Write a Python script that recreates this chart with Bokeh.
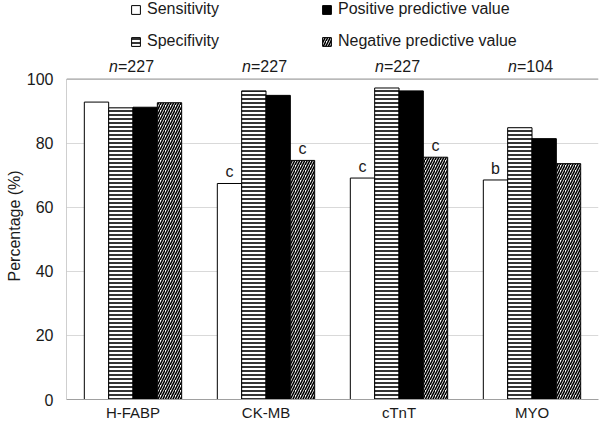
from bokeh.plotting import figure
from bokeh.models import (ColumnDataSource, FactorRange, Range1d, Legend, LegendItem,
                          LabelSet, Title, Span, FixedTicker)
from bokeh.core.properties import value
from bokeh.transform import dodge
from bokeh.embed import file_html
from bokeh.resources import INLINE

categories = ["H-FABP", "CK-MB", "cTnT", "MYO"]
sensitivity = [92.8, 67.4, 69.1, 68.5]
specifivity = [91.0, 96.3, 97.2, 84.8]
ppv = [91.2, 94.9, 96.3, 81.4]
npv = [92.6, 74.6, 75.6, 73.6]
n_counts = ["=227", "=227", "=227", "=104"]
sens_marks = ["", "c", "c", "b"]
npv_marks = ["", "c", "c", ""]
y_ticks = [0, 20, 40, 60, 80, 100]

FONT_NAME = "Liberation Sans"
FONT = value(FONT_NAME)
TXT = "#1a1a1a"
Y_TOP = 124.5  # extra room above 100 for legend and n labels

src = ColumnDataSource(dict(cat=categories, sens=sensitivity, spec=specifivity,
                            ppv=ppv, npv=npv, n=n_counts, nn=["n"] * len(categories),
                            sm=sens_marks, nm=npv_marks,
                            top100=[y_ticks[-1]] * len(categories)))

p = figure(x_range=FactorRange(*categories, range_padding=0), y_range=Range1d(0, Y_TOP),
           width=600, height=423, output_backend="svg", toolbar_location=None,
           min_border_left=66, min_border_right=2, min_border_top=0, min_border_bottom=19)

w = 0.183
offs = [-1.5 * w, -0.5 * w, 0.5 * w, 1.5 * w]

# left axis line (only from 0 to 100)
axsrc = ColumnDataSource(dict(cat=categories[:1], y0=[y_ticks[0]], y1=[y_ticks[-1]]))
p.segment(x0=dodge("cat", -0.5, range=p.x_range), x1=dodge("cat", -0.5, range=p.x_range),
          y0="y0", y1="y1", source=axsrc, line_color="#a0a0a0", line_width=1)
p.add_layout(Span(location=y_ticks[-1], dimension="width", line_color="#9a9a9a", line_width=1))

r_sens = p.vbar(x=dodge("cat", offs[0], range=p.x_range), top="sens", width=w, source=src,
                fill_color="white", line_color="black", line_width=1)
r_spec = p.vbar(x=dodge("cat", offs[1], range=p.x_range), top="spec", width=w, source=src,
                fill_color="white", line_color="black", line_width=1,
                hatch_pattern="-", hatch_color="black", hatch_scale=4, hatch_weight=1.6)
r_ppv = p.vbar(x=dodge("cat", offs[2], range=p.x_range), top="ppv", width=w, source=src,
               fill_color="black", line_color="black", line_width=1)
r_npv = p.vbar(x=dodge("cat", offs[3], range=p.x_range), top="npv", width=w, source=src,
               fill_color="white", line_color="black", line_width=1,
               hatch_pattern="/", hatch_color="black", hatch_scale=5, hatch_weight=1.6)

# significance letters
for fld, top, off in (("sm", "sens", offs[0]), ("nm", "npv", offs[3])):
    p.add_layout(LabelSet(x=dodge("cat", off, range=p.x_range), y=top, text=fld, source=src,
                          text_align="center", text_baseline="alphabetic", y_offset=6,
                          text_font=FONT, text_font_size="16px", text_color=TXT))

# n labels above the 100 line
p.add_layout(LabelSet(x="cat", y="top100", text="nn", source=src, text_align="right",
                      text_baseline="alphabetic", x_offset=-15, y_offset=7,
                      text_font=FONT, text_font_style="italic", text_font_size="16px",
                      text_color=TXT))
p.add_layout(LabelSet(x="cat", y="top100", text="n", source=src, text_align="left",
                      text_baseline="alphabetic", x_offset=-15, y_offset=7,
                      text_font=FONT, text_font_size="16px", text_color=TXT))

# y axis title
p.add_layout(Title(text="Percentage (%)", align="left", offset=118, standoff=2,
                   text_font=FONT_NAME, text_font_size="16px", text_font_style="normal",
                   text_color=TXT), "left")

leg_kw = dict(orientation="vertical", padding=0, margin=0, spacing=14, label_height=16,
              glyph_width=11, glyph_height=11, label_standoff=6,
              label_text_font=FONT_NAME, label_text_font_size="16px",
              label_text_color=TXT, border_line_color=None, background_fill_alpha=0)
leg1 = Legend(items=[LegendItem(label="Sensitivity", renderers=[r_sens]),
                     LegendItem(label="Specifivity", renderers=[r_spec])],
              location=(64, 349), **leg_kw)
leg2 = Legend(items=[LegendItem(label="Positive predictive value", renderers=[r_ppv]),
                     LegendItem(label="Negative predictive value", renderers=[r_npv])],
              location=(255, 349), **leg_kw)
p.add_layout(leg1)
p.add_layout(leg2)

p.outline_line_color = None
p.xgrid.grid_line_color = None
p.ygrid.grid_line_color = "#d9d9d9"
p.yaxis.ticker = FixedTicker(ticks=y_ticks)
p.yaxis.major_label_standoff = 13
p.yaxis.axis_line_color = None
p.xaxis.axis_line_color = "#a0a0a0"
for ax in (p.xaxis, p.yaxis):
    ax.major_tick_line_color = None
    ax.major_tick_out = 0
    ax.major_tick_in = 0
    ax.minor_tick_line_color = None
    ax.major_label_text_font = FONT_NAME
    ax.major_label_text_color = TXT
p.yaxis.major_label_text_font_size = "16px"
p.xaxis.major_label_text_font_size = "15px"
p.xaxis.major_label_standoff = 4

open("out.html", "w").write(file_html(p, INLINE))
